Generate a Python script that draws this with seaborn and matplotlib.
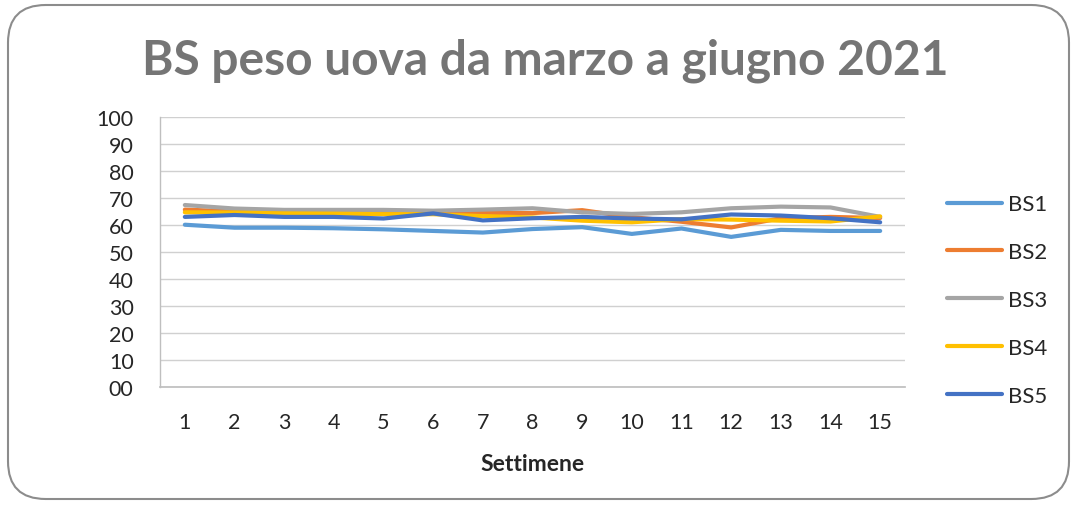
import matplotlib
matplotlib.use("Agg")
import matplotlib.pyplot as plt
from matplotlib.patches import FancyBboxPatch
import seaborn as sns
import pandas as pd

weeks = list(range(1, 16))
series_names = ["BS1", "BS2", "BS3", "BS4", "BS5"]
bs1 = [60.1, 59.0, 59.0, 58.8, 58.4, 57.8, 57.2, 58.5, 59.2, 56.7, 58.7, 55.6, 58.2, 57.8, 57.8]
bs2 = [65.7, 65.0, 64.6, 64.6, 64.6, 64.3, 64.5, 64.4, 65.5, 62.9, 61.2, 59.1, 62.5, 63.0, 62.6]
bs3 = [67.4, 66.1, 65.6, 65.6, 65.6, 65.3, 65.7, 66.2, 64.7, 64.1, 64.7, 66.2, 66.8, 66.5, 63.0]
bs4 = [64.7, 64.6, 64.3, 64.2, 64.0, 64.0, 63.3, 62.8, 61.6, 61.0, 62.2, 62.0, 61.6, 61.3, 63.2]
bs5 = [63.0, 63.7, 63.0, 63.0, 62.4, 64.3, 61.7, 62.5, 63.0, 62.4, 62.1, 63.9, 63.5, 62.5, 61.0]
y_ticks = [0, 10, 20, 30, 40, 50, 60, 70, 80, 90, 100]
y_tick_labels = ["00", "10", "20", "30", "40", "50", "60", "70", "80", "90", "100"]
colors = ["#5B9BD5", "#ED7D31", "#A5A5A5", "#FFC000", "#4472C4"]
title = "BS peso uova da marzo a giugno 2021"
xlabel = "Settimene"

rows = []
for name, vals in zip(series_names, [bs1, bs2, bs3, bs4, bs5]):
    for w, v in zip(weeks, vals):
        rows.append({"week": w, "value": v, "series": name})
df = pd.DataFrame(rows)

sns.set_theme(style="white")
plt.rcParams["font.family"] = ["Lato", "DejaVu Sans"]

fig = plt.figure(figsize=(10.77, 5.06), dpi=100)
fig.patch.set_facecolor("white")
border = FancyBboxPatch((8 / 1077, 6 / 506), 1061 / 1077, 494 / 506,
                        boxstyle="round,pad=0,rounding_size=0.035",
                        transform=fig.transFigure, facecolor="none",
                        edgecolor="#8c8c8c", linewidth=1.5, mutation_aspect=1077 / 506,
                        zorder=-1)
fig.patches.append(border)

ax = fig.add_axes([160 / 1077, 1 - 388 / 506, 745 / 1077, 270 / 506])
ax.patch.set_alpha(0)
sns.lineplot(data=df, x="week", y="value", hue="series", palette=colors,
             linewidth=3.0, ax=ax, legend=True, solid_capstyle="round")

tick_color = "#262626"
ax.set_xlim(0.5, 15.5)
ax.set_ylim(0, 100)
ax.set_yticks(y_ticks)
ax.set_yticklabels(y_tick_labels, fontsize=15.5, color=tick_color)
ax.set_xticks(weeks)
ax.set_xticklabels([str(w) for w in weeks], fontsize=15.5, color=tick_color)
ax.tick_params(axis="x", pad=18, length=0)
ax.tick_params(axis="y", pad=19, length=0)
ax.grid(axis="y", color="#d0d0d0", linewidth=1)
for s in ["top", "right"]:
    ax.spines[s].set_visible(False)
ax.spines["left"].set_color("#bfbfbf")
ax.spines["left"].set_linewidth(1)
ax.spines["bottom"].set_color("#bfbfbf")
ax.set_xlabel(xlabel, fontsize=16.5, fontweight="bold", color=tick_color, labelpad=15)
ax.set_ylabel("")

fig.text(545 / 1077, 1 - 61 / 506, title, ha="center", va="center",
         fontsize=34.5, fontweight="bold", color="#757575")

handles, labels = ax.get_legend_handles_labels()
leg = fig.legend(handles, labels, loc="center left", bbox_to_anchor=(938 / 1077, 1 - 301 / 506),
                 frameon=False, fontsize=16, handlelength=2.5, labelspacing=1.25,
                 handletextpad=0.25, borderaxespad=0)
for line in leg.get_lines():
    line.set_linewidth(3.0)
ax.get_legend().remove()

fig.savefig("out.png", dpi=100)
